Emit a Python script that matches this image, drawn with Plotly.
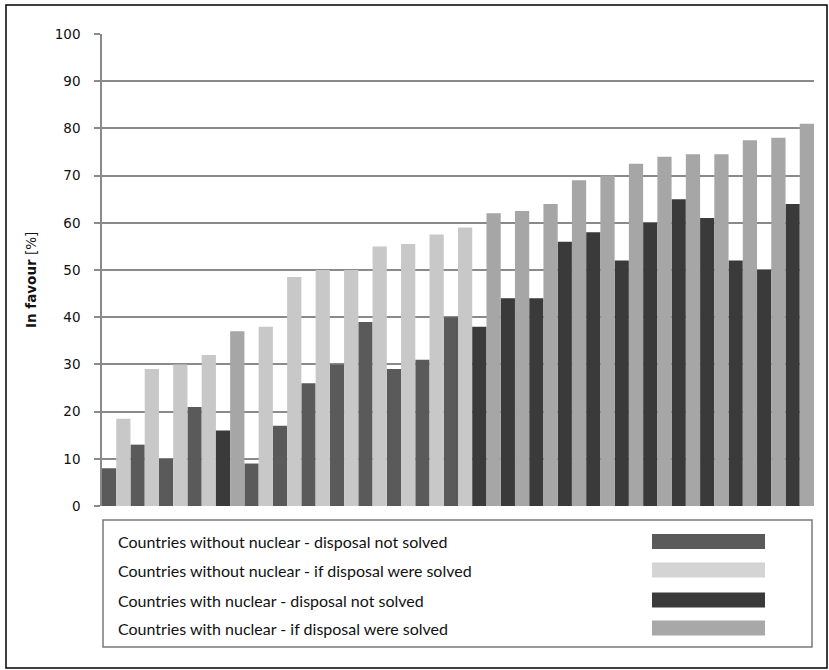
import plotly.graph_objects as go

# ---- data ----
country_idx = list(range(25))
has_nuclear = [0, 0, 0, 0, 1, 0, 0, 0, 0, 0, 0, 0, 0,
               1, 1, 1, 1, 1, 1, 1, 1, 1, 1, 1, 1]
not_solved = [8, 13, 10, 21, 16, 9, 17, 26, 30, 39, 29, 31, 40,
              38, 44, 44, 56, 58, 52, 60, 65, 61, 52, 50, 64]
if_solved = [18.5, 29, 30, 32, 37, 38, 48.5, 50, 50, 55, 55.5, 57.5, 59,
             62, 62.5, 64, 69, 70, 72.5, 74, 74.5, 74.5, 77.5, 78, 81]

series_names = [
    "Countries without nuclear - disposal not solved",
    "Countries without nuclear - if disposal were solved",
    "Countries with nuclear - disposal not solved",
    "Countries with nuclear - if disposal were solved",
]
series_colors = ["#5a5a5a", "#c8c8c8", "#3a3a3a", "#a6a6a6"]
legend_colors = ["#5a5a5a", "#d4d4d4", "#3a3a3a", "#a8a8a8"]
y_ticks = [0, 10, 20, 30, 40, 50, 60, 70, 80, 90, 100]

# ---- layout geometry (pixels) ----
W, H = 829, 670
L, R, T, B = 102, 15, 34, 164
PW, PH = W - L - R, H - T - B


def px(x):
    return (x - L) / PW


def py(y):
    return (H - B - y) / PH


fig = go.Figure()

groups = [(0, 0, -0.5), (0, 1, 0.0), (1, 0, -0.5), (1, 1, 0.0)]
for k, (nuc, solved, off) in enumerate(groups):
    xs = [c for c, n in zip(country_idx, has_nuclear) if n == nuc]
    vals = if_solved if solved else not_solved
    ys = [vals[c] for c in xs]
    fig.add_trace(go.Bar(
        x=xs, y=ys, offset=off, width=0.5,
        marker=dict(color=series_colors[k], line=dict(width=0)),
        name=series_names[k], showlegend=False, hoverinfo="y",
    ))

shapes = []
annotations = []

# legend box
shapes.append(dict(type="rect", xref="paper", yref="paper",
                   x0=px(103), x1=px(812), y0=py(647), y1=py(520),
                   line=dict(color="#7a7a7a", width=1.5), fillcolor="rgba(0,0,0,0)"))
row_y = [541.5, 570, 600, 628]
for i, name in enumerate(series_names):
    annotations.append(dict(
        xref="paper", yref="paper", x=px(116), y=py(row_y[i]),
        xanchor="left", yanchor="middle", showarrow=False, text=name,
        font=dict(family="Liberation Sans Narrow, Lato, sans-serif", size=16, color="#111111"),
    ))
    shapes.append(dict(type="rect", xref="paper", yref="paper",
                       x0=px(652), x1=px(765),
                       y0=py(row_y[i] + 7.5), y1=py(row_y[i] - 7.5),
                       line=dict(width=0), fillcolor=legend_colors[i]))

# outer frame
shapes.append(dict(type="rect", xref="paper", yref="paper",
                   x0=px(6), x1=px(827), y0=py(668), y1=py(5),
                   line=dict(color="#000000", width=1.5), fillcolor="rgba(0,0,0,0)"))

# y title
annotations.append(dict(
    xref="paper", yref="paper", x=px(31), y=py(280),
    xanchor="center", yanchor="middle", showarrow=False, textangle=-90,
    text="<b>In favour</b> [%]",
    font=dict(family="DejaVu Sans, sans-serif", size=13.5, color="#111111"),
))

fig.update_layout(
    width=W, height=H,
    margin=dict(l=L, r=R, t=T, b=B, autoexpand=False),
    paper_bgcolor="white", plot_bgcolor="white",
    barmode="overlay",
    shapes=shapes, annotations=annotations,
    showlegend=False,
)
fig.update_xaxes(range=[-0.5, 24.5], showticklabels=False, showgrid=False,
                 zeroline=False, showline=False, ticks="")
fig.update_yaxes(range=[0, 100], tickvals=y_ticks, showgrid=True,
                 gridcolor="#8a8a8a", gridwidth=1.5, zeroline=False,
                 showline=True, linecolor="#8a8a8a", linewidth=1.5,
                 ticks="outside", ticklen=6, tickcolor="#8a8a8a", tickwidth=1.5,
                 ticklabelstandoff=11,
                 tickfont=dict(family="DejaVu Sans, sans-serif", size=13.5, color="#111111"))

fig.write_html("out.html", config={"displayModeBar": False},
               post_script="document.body.style.margin='0';")
